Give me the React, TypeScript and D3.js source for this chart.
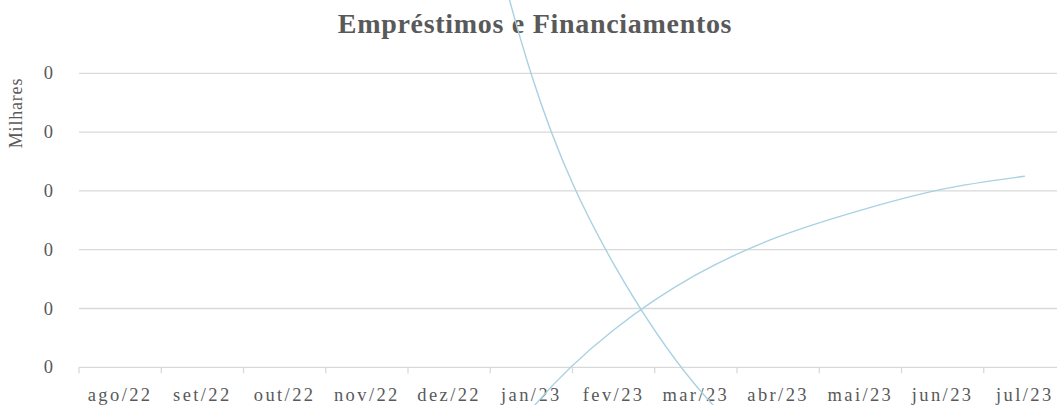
import * as d3 from "d3";

// categories (monthly)
const months = [
  "ago/22", "set/22", "out/22", "nov/22", "dez/22", "jan/23",
  "fev/23", "mar/23", "abr/23", "mai/23", "jun/23", "jul/23",
];

// values in thousands (Milhares); null where the line has no point
const emprestimos: (number | null)[] = [
  null, null, null, null, 0.52, 0.249, 0.088, -0.0155, -0.086, null, null, null,
];
const financiamentos: (number | null)[] = [
  null, null, null, null, -0.132, -0.0356, 0.0317, 0.0785, 0.1109, 0.1335, 0.1515, 0.1625,
];

const yTicks = [0, 0.05, 0.1, 0.15, 0.2, 0.25];

const W = 1057;
const H = 405;
const M = { left: 79, top: 73.3, right: -9, bottom: 37.7 };
const FONT = "'Liberation Serif', 'Times New Roman', serif";
const TEXT = "#595959";
const GRID = "#d9d9d9";

export default function App() {
  const x = d3
    .scaleBand<string>()
    .domain(months)
    .range([M.left, W - M.right])
    .paddingInner(0)
    .paddingOuter(0);
  const y = d3
    .scaleLinear()
    .domain([0, 0.25])
    .range([H - M.bottom, M.top]);
  const fmt = d3.format(".0f");

  const line = d3
    .line<number | null>()
    .defined((d) => d !== null)
    .x((_, i) => (x(months[i]) as number) + x.bandwidth() / 2)
    .y((d) => y(d as number))
    .curve(d3.curveNatural);

  const series = [
    { name: "Empréstimos", values: emprestimos, color: "#a8d1e3" },
    { name: "Financiamentos", values: financiamentos, color: "#a8d1e3" },
  ];

  const axisY = y(0);

  return (
    <div style={{ position: "absolute", left: 0, top: 0 }}>
      <svg width={W} height={H} style={{ display: "block", background: "#fff" }}>
        <text
          x={535}
          y={33}
          textAnchor="middle"
          fontFamily={FONT}
          fontWeight="bold"
          fontSize={28}
          letterSpacing={0.7}
          fill={TEXT}
        >
          Empréstimos e Financiamentos
        </text>

        <text
          transform={`translate(22,113) rotate(-90)`}
          textAnchor="middle"
          fontFamily={FONT}
          fontSize={18}
          letterSpacing={0.8}
          fill={TEXT}
        >
          Milhares
        </text>

        {yTicks.map((t, i) => (
          <g key={i}>
            {t !== 0 && (
              <line
                x1={M.left}
                x2={W - M.right}
                y1={y(t)}
                y2={y(t)}
                stroke={GRID}
                strokeWidth={1.3}
              />
            )}
            <text
              x={53}
              y={y(t) + 6}
              textAnchor="end"
              fontFamily={FONT}
              fontSize={18.5}
              fill={TEXT}
            >
              {fmt(t)}
            </text>
          </g>
        ))}

        <line
          x1={M.left}
          x2={W - M.right}
          y1={axisY}
          y2={axisY}
          stroke={GRID}
          strokeWidth={1.3}
        />
        {months.map((m) => (
          <line
            key={"t" + m}
            x1={x(m) as number}
            x2={x(m) as number}
            y1={axisY}
            y2={axisY + 6}
            stroke={GRID}
            strokeWidth={1.3}
          />
        ))}
        {months.map((m) => (
          <text
            key={m}
            x={(x(m) as number) + x.bandwidth() / 2}
            y={401}
            textAnchor="middle"
            fontFamily={FONT}
            fontSize={18.5}
            letterSpacing={2.4}
            fill={TEXT}
          >
            {m}
          </text>
        ))}

        {series.map((s) => (
          <path
            key={s.name}
            d={line(s.values) || ""}
            fill="none"
            stroke={s.color}
            strokeWidth={1.4}
          />
        ))}
      </svg>
    </div>
  );
}
